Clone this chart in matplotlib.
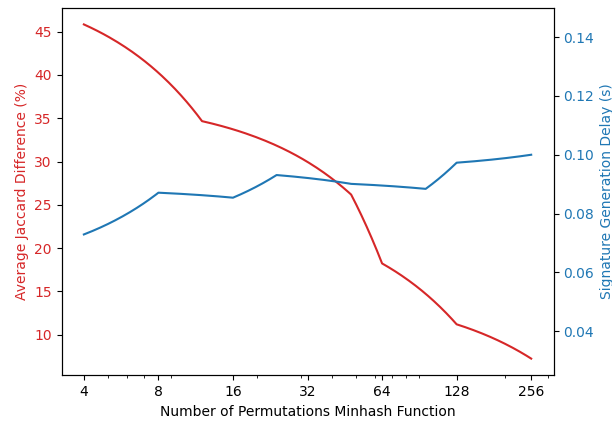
import matplotlib
matplotlib.use("Agg")
import matplotlib.pyplot as plt
import numpy as np
from matplotlib.path import Path
from matplotlib.patches import PathPatch
from matplotlib.ticker import ScalarFormatter

# Data
red_x = [4, 12, 48, 64, 128, 256]
red_jaccard = [45.84, 34.67, 26.19, 18.24, 11.21, 7.25]

blue_x = [4, 8, 16, 24, 48, 96, 128, 256]
blue_delay = [0.0729, 0.0871, 0.0854, 0.0931, 0.0901, 0.0884, 0.0973, 0.1000]

xtick_values = [4, 8, 16, 32, 64, 128, 256]

red = "tab:red"
blue = "tab:blue"


def draw_line(ax, xs, ys, color):
    # segments are straight in data space; let matplotlib subdivide the path
    # so they render correctly through the non-linear (log) x transform
    path = Path(np.column_stack([xs, ys])).interpolated(60)
    patch = PathPatch(path, fill=False, edgecolor=color, linewidth=1.5,
                      capstyle="projecting", joinstyle="round")
    ax.add_patch(patch)
    ax.plot(xs, ys, color=color, alpha=0)  # for autoscaling only


fig, ax1 = plt.subplots(figsize=(6.12, 4.21), dpi=100)
fig.subplots_adjust(left=0.1005, right=0.9045, top=0.9817, bottom=0.1085)

ax1.set_xscale("log")
draw_line(ax1, red_x, red_jaccard, red)
ax1.set_xticks(xtick_values)
ax1.get_xaxis().set_major_formatter(ScalarFormatter())
ax1.set_xlabel("Number of Permutations Minhash Function")
ax1.set_ylabel("Average Jaccard Difference (%)", color=red)
ax1.tick_params(axis="y", labelcolor=red)

ax2 = ax1.twinx()
draw_line(ax2, blue_x, blue_delay, blue)
ax2.set_ylabel("Signature Generation Delay (s)", color=blue)
ax2.tick_params(axis="y", labelcolor=blue)
ax2.set_ylim(0.025, 0.15)

fig.savefig("out.png", dpi=100)
